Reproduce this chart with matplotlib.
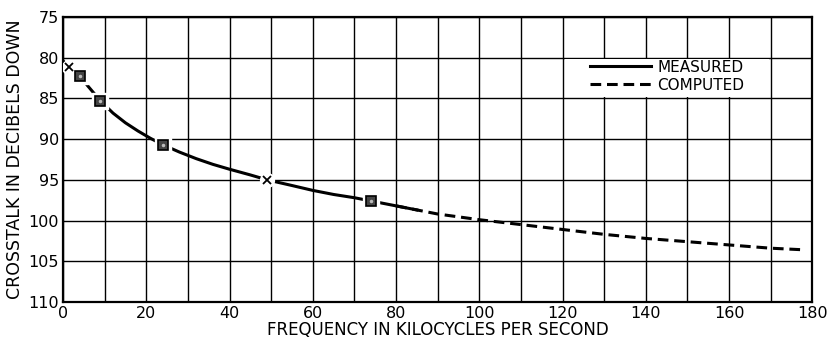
import matplotlib
matplotlib.use("Agg")
import matplotlib.pyplot as plt
from matplotlib.patches import Rectangle

# measured curve (kc, db down)
meas_f = [0, 1.5, 4, 6, 9, 12, 15, 18, 21, 24, 28, 32, 36, 40, 45, 49, 55, 60, 65, 70, 74, 80, 85]
meas_db = [80.4, 81.1, 82.2, 83.5, 85.3, 86.8, 88.0, 89.0, 89.9, 90.7, 91.6, 92.4, 93.1, 93.7, 94.4, 95.0,
           95.7, 96.3, 96.8, 97.2, 97.6, 98.2, 98.7]

# computed curve
comp_f = [80, 90, 100, 110, 120, 130, 140, 150, 160, 170, 178]
comp_db = [98.2, 99.2, 99.9, 100.5, 101.1, 101.7, 102.2, 102.6, 103.0, 103.4, 103.6]

# test points
x_pts_f = [1.5, 49]
x_pts_db = [81.1, 95.0]
sq_pts_f = [4, 9, 24, 74]
sq_pts_db = [82.2, 85.3, 90.7, 97.6]

xgrid = list(range(0, 181, 10))
xlabels = [str(v) if v % 20 == 0 else '' for v in xgrid]
yticks = list(range(75, 111, 5))

plt.rcParams['font.family'] = ['DejaVu Sans']

fig = plt.figure(figsize=(8.27, 3.4), dpi=100)
ax = fig.add_axes([0.0762, 0.112, 0.906, 0.838])

ax.set_xlim(0, 180)
ax.set_ylim(110, 75)
ax.set_xticks(xgrid)
ax.set_xticklabels(xlabels)
ax.set_yticks(yticks)
ax.grid(True, color='black', linewidth=1.0)
ax.set_axisbelow(True)
ax.tick_params(length=0, labelsize=11.5, pad=3)
for s in ax.spines.values():
    s.set_linewidth(1.6)

# white area behind legend (grid lines at the edges stay visible)
ax.add_patch(Rectangle((120.5, 80.2), 49, 4.6, facecolor='white', edgecolor='none', zorder=1))

ax.plot(meas_f, meas_db, color='black', lw=2.2, label='MEASURED', zorder=3)
ax.plot(comp_f, comp_db, color='black', lw=2.2, ls=(0, (3.5, 1.9)), label='COMPUTED', zorder=3)

# markers with white halo
ax.plot(x_pts_f, x_pts_db, ls='none', marker='o', ms=10, mfc='white', mec='white', zorder=4)
ax.plot(x_pts_f, x_pts_db, ls='none', marker='x', ms=6, mew=1.3, color='black', zorder=5)
ax.plot(sq_pts_f, sq_pts_db, ls='none', marker='s', ms=11, mfc='white', mec='white', zorder=4)
ax.plot(sq_pts_f, sq_pts_db, ls='none', marker='s', ms=6.5, mfc='#444444', mec='black', mew=1.2, zorder=5)
ax.plot(sq_pts_f, sq_pts_db, ls='none', marker='.', ms=3, color='#bbbbbb', zorder=6)

ax.legend(loc='upper left', bbox_to_anchor=(0.695, 0.872), frameon=False, fontsize=11,
          handlelength=4.0, handletextpad=0.4, labelspacing=0.2, borderaxespad=0)

ax.set_xlabel('FREQUENCY IN KILOCYCLES PER SECOND', fontsize=12, labelpad=0)
ax.set_ylabel('CROSSTALK IN DECIBELS DOWN', fontsize=12.5, labelpad=3)

fig.savefig('out.png', dpi=100)
